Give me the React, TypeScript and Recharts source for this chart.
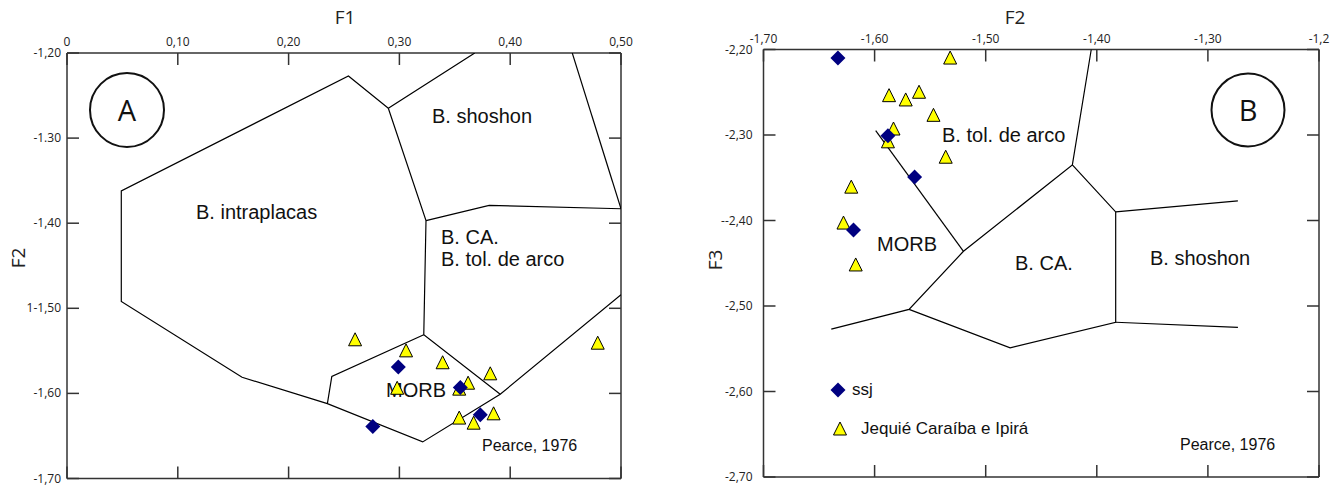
import React from "react";
import { ScatterChart, Scatter, XAxis, YAxis, Legend } from "recharts";

// painel A: F1 x F2
const aXTicks = [0, 0.1, 0.2, 0.3, 0.4, 0.5];
const aXLabels = ["0", "0,10", "0,20", "0,30", "0,40", "0,50"];
const aYTicks = [-1.2, -1.3, -1.4, -1.5, -1.6, -1.7];
const aYLabels = ["-1,20", "-1.30", "-1,40", "1-1,50", "-1,60", "-1,70"];

const aSsj = [
  { x: 0.299, y: -1.569 },
  { x: 0.355, y: -1.593 },
  { x: 0.373, y: -1.625 },
  { x: 0.276, y: -1.639 },
];

const aJequie = [
  { x: 0.26, y: -1.537 },
  { x: 0.306, y: -1.55 },
  { x: 0.339, y: -1.564 },
  { x: 0.382, y: -1.577 },
  { x: 0.362, y: -1.588 },
  { x: 0.298, y: -1.594 },
  { x: 0.354, y: -1.595 },
  { x: 0.354, y: -1.629 },
  { x: 0.367, y: -1.635 },
  { x: 0.385, y: -1.624 },
  { x: 0.479, y: -1.541 },
];

// limites dos campos (Pearce, 1976)
const aFields = [
  [
    { x: 0.368, y: -1.2 },
    { x: 0.29, y: -1.265 },
    { x: 0.254, y: -1.227 },
    { x: 0.049, y: -1.362 },
    { x: 0.049, y: -1.492 },
    { x: 0.158, y: -1.581 },
    { x: 0.235, y: -1.612 },
    { x: 0.321, y: -1.657 },
    { x: 0.391, y: -1.601 },
    { x: 0.5, y: -1.484 },
  ],
  [
    { x: 0.29, y: -1.265 },
    { x: 0.324, y: -1.397 },
    { x: 0.322, y: -1.531 },
    { x: 0.391, y: -1.601 },
  ],
  [
    { x: 0.324, y: -1.397 },
    { x: 0.381, y: -1.379 },
    { x: 0.5, y: -1.383 },
  ],
  [
    { x: 0.456, y: -1.2 },
    { x: 0.5, y: -1.383 },
  ],
  [
    { x: 0.235, y: -1.612 },
    { x: 0.239, y: -1.58 },
    { x: 0.322, y: -1.531 },
  ],
];

// painel B: F2 x F3
const bXTicks = [-1.7, -1.6, -1.5, -1.4, -1.3, -1.2];
const bXLabels = ["-1,70", "-1,60", "-1,50", "-1,40", "-1,30", "-1,2"];
const bYTicks = [-2.2, -2.3, -2.4, -2.5, -2.6, -2.7];
const bYLabels = ["-2,20", "-2,30", "--2,40", "-2,50", "-2,60", "-2,70"];

const bSsj = [
  { x: -1.633, y: -2.21 },
  { x: -1.588, y: -2.301 },
  { x: -1.564, y: -2.349 },
  { x: -1.619, y: -2.411 },
];

const bJequie = [
  { x: -1.532, y: -2.21 },
  { x: -1.587, y: -2.254 },
  { x: -1.572, y: -2.259 },
  { x: -1.56, y: -2.25 },
  { x: -1.547, y: -2.277 },
  { x: -1.583, y: -2.293 },
  { x: -1.588, y: -2.308 },
  { x: -1.536, y: -2.326 },
  { x: -1.621, y: -2.361 },
  { x: -1.628, y: -2.403 },
  { x: -1.617, y: -2.452 },
];

const bFields = [
  [
    { x: -1.599, y: -2.295 },
    { x: -1.52, y: -2.436 },
  ],
  [
    { x: -1.639, y: -2.527 },
    { x: -1.569, y: -2.504 },
    { x: -1.52, y: -2.436 },
    { x: -1.422, y: -2.335 },
    { x: -1.405, y: -2.2 },
  ],
  [
    { x: -1.569, y: -2.504 },
    { x: -1.478, y: -2.549 },
    { x: -1.383, y: -2.519 },
    { x: -1.383, y: -2.39 },
    { x: -1.422, y: -2.335 },
  ],
  [
    { x: -1.383, y: -2.39 },
    { x: -1.273, y: -2.377 },
  ],
  [
    { x: -1.383, y: -2.519 },
    { x: -1.273, y: -2.525 },
  ],
];

const FRAME = "#333";
const TICK_FONT = "'Open Sans', sans-serif";
const LABEL_FONT = "'Liberation Sans', Arial, sans-serif";

const Diamond = ({ cx, cy }: any) => (
  <path d={`M${cx},${cy - 7.5}L${cx + 7.5},${cy}L${cx},${cy + 7.5}L${cx - 7.5},${cy}Z`} fill="#000080" />
);

const Triangle = ({ cx, cy }: any) => (
  <path
    d={`M${cx},${cy - 7}L${cx + 6.5},${cy + 6}L${cx - 6.5},${cy + 6}Z`}
    fill="#ffff00"
    stroke="#000"
    strokeWidth={1}
  />
);

const NoDot = () => <g />;

const makeTick =
  (side: "top" | "bottom" | "left" | "right", ticks: number[], labels: string[] | null, gap = 6) =>
  (props: any) => {
    const { x, y, payload } = props;
    const i = ticks.findIndex((t) => Math.abs(t - payload.value) < 1e-6);
    const label = labels && i >= 0 ? labels[i] : "";
    const len = 12;
    if (side === "top") {
      return (
        <g>
          <line x1={x} y1={y} x2={x} y2={y + len} stroke={FRAME} strokeWidth={1.5} />
          <text x={x} y={y - 7} textAnchor="middle" fontFamily={TICK_FONT} fontSize={12} fill="#222">
            {label}
          </text>
        </g>
      );
    }
    if (side === "bottom") {
      return <line x1={x} y1={y} x2={x} y2={y - len} stroke={FRAME} strokeWidth={1.5} />;
    }
    if (side === "left") {
      return (
        <g>
          <line x1={x} y1={y} x2={x + len} y2={y} stroke={FRAME} strokeWidth={1.5} />
          <text x={x - gap} y={y + 4} textAnchor="end" fontFamily={TICK_FONT} fontSize={12} fill="#222">
            {label}
          </text>
        </g>
      );
    }
    return <line x1={x} y1={y} x2={x - len} y2={y} stroke={FRAME} strokeWidth={1.5} />;
  };

const legendItems = [
  { name: "ssj", Shape: Diamond, cx: 10, w: 24 },
  { name: "Jequié Caraíba e Ipirá", Shape: Triangle, cx: 12, w: 33 },
];

const LegendBox = () => (
  <div style={{ fontFamily: LABEL_FONT, fontSize: 17, color: "#111" }}>
    {legendItems.map(({ name, Shape, cx, w }) => (
      <div key={name} style={{ display: "flex", alignItems: "center", height: 39 }}>
        <svg width={w} height={20} style={{ flex: "none" }}>
          <Shape cx={cx} cy={10} />
        </svg>
        <span>{name}</span>
      </div>
    ))}
  </div>
);

interface PanelProps {
  margin: { top: number; right: number; bottom: number; left: number };
  xDomain: [number, number];
  yDomain: [number, number];
  xTicks: number[];
  xLabels: string[];
  yTicks: number[];
  yLabels: string[];
  yGap: number;
  fields: { x: number; y: number }[][];
  ssj: { x: number; y: number }[];
  jequie: { x: number; y: number }[];
  showLegend?: boolean;
}

const Panel = (p: PanelProps) => (
  <ScatterChart width={672} height={486} margin={p.margin}>
    <XAxis
      xAxisId="t"
      type="number"
      dataKey="x"
      orientation="top"
      domain={p.xDomain}
      ticks={p.xTicks}
      interval={0}
      allowDataOverflow
      height={1}
      tickSize={0}
      tickMargin={0}
      axisLine={{ stroke: FRAME, strokeWidth: 1.5 }}
      tick={makeTick("top", p.xTicks, p.xLabels)}
    />
    <XAxis
      xAxisId="b"
      type="number"
      dataKey="x"
      orientation="bottom"
      domain={p.xDomain}
      ticks={p.xTicks}
      interval={0}
      allowDataOverflow
      height={1}
      tickSize={0}
      tickMargin={0}
      axisLine={{ stroke: FRAME, strokeWidth: 1.5 }}
      tick={makeTick("bottom", p.xTicks, null)}
    />
    <YAxis
      yAxisId="l"
      type="number"
      dataKey="y"
      orientation="left"
      domain={p.yDomain}
      ticks={p.yTicks}
      interval={0}
      allowDataOverflow
      width={1}
      tickSize={0}
      tickMargin={0}
      axisLine={{ stroke: FRAME, strokeWidth: 1.5 }}
      tick={makeTick("left", p.yTicks, p.yLabels, p.yGap)}
    />
    <YAxis
      yAxisId="r"
      type="number"
      dataKey="y"
      orientation="right"
      domain={p.yDomain}
      ticks={p.yTicks}
      interval={0}
      allowDataOverflow
      width={1}
      tickSize={0}
      tickMargin={0}
      axisLine={{ stroke: FRAME, strokeWidth: 1.5 }}
      tick={makeTick("right", p.yTicks, null)}
    />
    {p.fields.map((seg, i) => (
      <Scatter
        key={`f${i}`}
        data={seg}
        xAxisId="b"
        yAxisId="r"
        line={{ stroke: "#000", strokeWidth: 1.2 }}
        lineType="joint"
        shape={NoDot}
        legendType="none"
        isAnimationActive={false}
      />
    ))}
    <Scatter
      name="Jequié Caraíba e Ipirá"
      data={p.jequie}
      xAxisId="t"
      yAxisId="l"
      shape={Triangle}
      isAnimationActive={false}
    />
    <Scatter name="ssj" data={p.ssj} xAxisId="t" yAxisId="l" shape={Diamond} isAnimationActive={false} />
    {p.showLegend && (
      <Legend
        layout="vertical"
        align="center"
        verticalAlign="middle"
        wrapperStyle={{ left: 156, top: 370, width: 260 }}
        content={<LegendBox />}
      />
    )}
  </ScatterChart>
);

const Labels = () => {
  const region = { fontFamily: LABEL_FONT, fontSize: 20, fill: "#111" };
  const title = { fontFamily: TICK_FONT, fontSize: 19, fill: "#222" };
  return (
    <svg width={1344} height={486} style={{ position: "absolute", left: 0, top: 0 }}>
      <text x={345} y={24} textAnchor="middle" {...title}>F1</text>
      <text transform="translate(25,258) rotate(-90)" textAnchor="middle" {...title}>F2</text>
      <text x={1015} y={24} textAnchor="middle" {...title}>F2</text>
      <text transform="translate(722,260) rotate(-90)" textAnchor="middle" {...title}>F3</text>

      <ellipse cx={127} cy={110} rx={37} ry={37} fill="none" stroke="#111" strokeWidth={2} />
      <text x={127} y={121} textAnchor="middle" fontFamily={TICK_FONT} fontSize={29} fill="#111">A</text>
      <text x={432} y={123} {...region}>B. shoshon</text>
      <text x={196} y={219} {...region}>B. intraplacas</text>
      <text x={441} y={244} {...region}>B. CA.</text>
      <text x={441} y={266} {...region}>B. tol. de arco</text>
      <text x={386} y={397} {...region}>MORB</text>
      <text x={482} y={451} {...region} fontSize={16}>Pearce, 1976</text>

      <ellipse cx={1248} cy={110} rx={36.5} ry={36.5} fill="none" stroke="#111" strokeWidth={2} />
      <text x={1248} y={121} textAnchor="middle" fontFamily={TICK_FONT} fontSize={29} fill="#111">B</text>
      <text x={942} y={142} {...region}>B. tol. de arco</text>
      <text x={877} y={251} {...region}>MORB</text>
      <text x={1015} y={270} {...region}>B. CA.</text>
      <text x={1150} y={265} {...region}>B. shoshon</text>
      <text x={1180} y={450} {...region} fontSize={16}>Pearce, 1976</text>
    </svg>
  );
};

export default function App() {
  return (
    <div
      style={{
        position: "absolute",
        left: 0,
        top: 0,
        width: 1344,
        height: 486,
        overflow: "hidden",
        background: "#fff",
      }}
    >
      <Labels />
      <div style={{ position: "absolute", left: 0, top: 0 }}>
        <Panel
          margin={{ top: 52, right: 50, bottom: 6.5, left: 66 }}
          xDomain={[0, 0.5]}
          yDomain={[-1.7, -1.2]}
          xTicks={aXTicks}
          xLabels={aXLabels}
          yTicks={aYTicks}
          yLabels={aYLabels}
          yGap={6}
          fields={aFields}
          ssj={aSsj}
          jequie={aJequie}
        />
      </div>
      <div style={{ position: "absolute", left: 672, top: 0 }}>
        <Panel
          margin={{ top: 48.5, right: 24, bottom: 8, left: 90.5 }}
          xDomain={[-1.7, -1.2]}
          yDomain={[-2.7, -2.2]}
          xTicks={bXTicks}
          xLabels={bXLabels}
          yTicks={bYTicks}
          yLabels={bYLabels}
          yGap={11}
          fields={bFields}
          ssj={bSsj}
          jequie={bJequie}
          showLegend
        />
      </div>
    </div>
  );
}
